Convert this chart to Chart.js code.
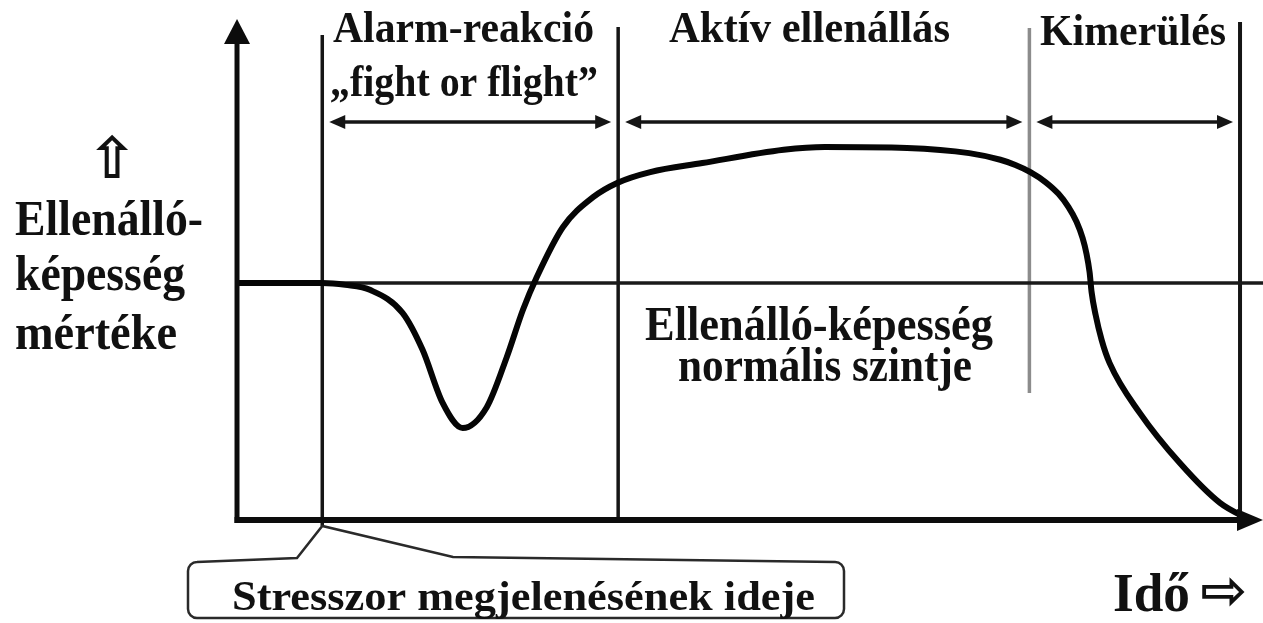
<!DOCTYPE html>
<html>
<head>
<meta charset="utf-8">
<script src="https://cdn.jsdelivr.net/npm/chart.js@4"></script>
<style>
  html, body { margin: 0; padding: 0; background: #ffffff; }
  #wrap { width: 1263px; height: 623px; position: relative; }
</style>
</head>
<body>
<div id="wrap"><canvas id="c"></canvas></div>
<script>
// ---- data (time in % of the whole process, resistance with normal level = 50) ----
const timeValues = [0, 8.5, 10.8, 13.3, 16.5, 18.5, 20.5, 22.5, 24.9, 26.9, 28.5, 29.9, 32.5, 35.5, 37.9,
  41.2, 46.4, 54.5, 58.6, 66.8, 73.0, 76.1, 77.6, 79.1, 80.6, 81.9, 82.9, 83.7, 84.3, 84.7, 85.0, 85.2, 85.6,
  86.2, 87.0, 90.0, 94.0, 98.0, 101.0];
const resistanceValues = [50, 50, 49.6, 48.5, 43.7, 35.9, 24.7, 19.4, 23.8, 34.4, 44.3, 51.3, 61.8, 68.1, 71.1,
  73.4, 75.3, 78.1, 78.7, 78.5, 77.4, 76.0, 74.9, 73.4, 71.3, 68.8, 66.0, 62.9, 59.5, 56.1, 52.3, 48.1, 43.3,
  38.0, 33.1, 22.6, 12.0, 3.6, 0];
const stageBounds = [8.5, 38, 79, 100];
const stageNames = ['Alarm-reakció', 'Aktív ellenállás', 'Kimerülés'];
const alarmSubtitle = '„fight or flight”';
const normalLevel = 50;
const yAxisLabel = ['Ellenálló-', 'képesség', 'mértéke'];
const normalLabel = ['Ellenálló-képesség', 'normális szintje'];
const stressorLabel = 'Stresszor megjelenésének ideje';
const timeLabel = 'Idő';

// scale ranges
const X_MIN = -23.63, X_MAX = 102.29;
const Y_MIN = -21.73, Y_MAX = 109.70;

const SERIF = "'Liberation Serif', 'Times New Roman', serif";
const INK = '#111111';

function fitText(ctx, text, left, right, baseline, size, weight, family) {
  ctx.save();
  ctx.font = weight + ' ' + size + 'px ' + family;
  ctx.textAlign = 'left';
  ctx.textBaseline = 'alphabetic';
  const w = ctx.measureText(text).width;
  const sx = (right - left) / w;
  ctx.translate(left, baseline);
  ctx.scale(sx, 1);
  ctx.fillStyle = INK;
  ctx.fillText(text, 0, 0);
  ctx.restore();
}
function fitSymbol(ctx, text, left, top, width, height) {
  ctx.save();
  ctx.font = "bold 60px 'DejaVu Sans', sans-serif";
  ctx.textAlign = 'left';
  ctx.textBaseline = 'alphabetic';
  const m = ctx.measureText(text);
  const gw = m.actualBoundingBoxLeft + m.actualBoundingBoxRight;
  const gh = m.actualBoundingBoxAscent + m.actualBoundingBoxDescent;
  ctx.translate(left, top);
  ctx.scale(width / gw, height / gh);
  ctx.fillStyle = INK;
  ctx.fillText(text, m.actualBoundingBoxLeft, m.actualBoundingBoxAscent);
  ctx.restore();
}
function arrowHead(ctx, tipX, tipY, dir, len, half) {
  ctx.beginPath();
  if (dir === 'left') { ctx.moveTo(tipX, tipY); ctx.lineTo(tipX + len, tipY - half); ctx.lineTo(tipX + len, tipY + half); }
  else if (dir === 'right') { ctx.moveTo(tipX, tipY); ctx.lineTo(tipX - len, tipY - half); ctx.lineTo(tipX - len, tipY + half); }
  else { ctx.moveTo(tipX, tipY); ctx.lineTo(tipX - half, tipY + len); ctx.lineTo(tipX + half, tipY + len); }
  ctx.closePath();
  ctx.fill();
}

const diagramPlugin = {
  id: 'diagram',
  beforeDatasetsDraw(chart) {
    const ctx = chart.ctx, xs = chart.scales.x, ys = chart.scales.y;
    const y0 = ys.getPixelForValue(0);
    ctx.save();
    ctx.lineCap = 'butt';
    // stage boundary lines
    const tops = [35, 27, 28, 22];
    stageBounds.forEach((b, i) => {
      const px = xs.getPixelForValue(b);
      ctx.beginPath();
      ctx.strokeStyle = i === 2 ? '#8c8c8c' : '#151515';
      ctx.lineWidth = i === 3 ? 4 : 3.5;
      const bottom = i === 0 ? y0 + 6 : (i === 2 ? 393 : y0);
      ctx.moveTo(px, tops[i]);
      ctx.lineTo(px, bottom);
      ctx.stroke();
    });
    // double arrows for each stage
    const ay = 122;
    ctx.strokeStyle = '#151515';
    ctx.fillStyle = '#151515';
    ctx.lineWidth = 3.5;
    for (let i = 0; i < stageBounds.length - 1; i++) {
      const a = xs.getPixelForValue(stageBounds[i]) + 7;
      const b = xs.getPixelForValue(stageBounds[i + 1]) - 7;
      ctx.beginPath();
      ctx.moveTo(a + 6, ay); ctx.lineTo(b - 6, ay); ctx.stroke();
      arrowHead(ctx, a, ay, 'left', 16, 7);
      arrowHead(ctx, b, ay, 'right', 16, 7);
    }
    ctx.restore();
  },
  afterDatasetsDraw(chart) {
    const ctx = chart.ctx, xs = chart.scales.x, ys = chart.scales.y;
    const x0 = xs.getPixelForValue(0), y0 = ys.getPixelForValue(0);
    ctx.save();
    ctx.strokeStyle = '#0c0c0c';
    ctx.fillStyle = '#0c0c0c';
    // y axis
    ctx.lineWidth = 5;
    ctx.beginPath(); ctx.moveTo(x0, y0 + 3); ctx.lineTo(x0, 40); ctx.stroke();
    arrowHead(ctx, x0, 19, 'up', 25, 13);
    // x axis
    ctx.lineWidth = 6;
    ctx.beginPath(); ctx.moveTo(x0 - 2.5, y0); ctx.lineTo(1242, y0); ctx.stroke();
    arrowHead(ctx, 1263, y0, 'right', 26, 11);

    // callout for stressor time
    const axp = xs.getPixelForValue(stageBounds[0]);
    const L = 188, R = 844, T = 562, B = 618, r = 9;
    ctx.lineWidth = 2.5;
    ctx.strokeStyle = '#2a2a2a';
    ctx.beginPath();
    ctx.moveTo(L + r, T);
    ctx.lineTo(297, 558);
    ctx.lineTo(axp, y0 + 6);
    ctx.lineTo(453, 557);
    ctx.arcTo(R, T, R, B, r);
    ctx.arcTo(R, B, L, B, r);
    ctx.arcTo(L, B, L, T, r);
    ctx.arcTo(L, T, R, T, r);
    ctx.closePath();
    ctx.stroke();

    // texts
    fitText(ctx, stageNames[0], 333, 594, 42, 44, 'bold', SERIF);
    fitText(ctx, alarmSubtitle, 330, 598, 96, 44, 'bold', SERIF);
    fitText(ctx, stageNames[1], 669, 950, 42, 44, 'bold', SERIF);
    fitText(ctx, stageNames[2], 1040, 1226, 45, 44, 'bold', SERIF);

    fitSymbol(ctx, '⇧', 96, 134, 33, 44);
    fitText(ctx, yAxisLabel[0], 15, 203, 235, 50, 'bold', SERIF);
    fitText(ctx, yAxisLabel[1], 15, 185, 290, 50, 'bold', SERIF);
    fitText(ctx, yAxisLabel[2], 15, 177, 349, 50, 'bold', SERIF);

    fitText(ctx, normalLabel[0], 645, 993, 340, 48, 'bold', SERIF);
    fitText(ctx, normalLabel[1], 678, 972, 381, 48, 'bold', SERIF);

    fitText(ctx, stressorLabel, 232, 815, 610, 42, 'bold', SERIF);
    fitText(ctx, timeLabel, 1113, 1190, 611, 54, 'bold', SERIF);
    fitSymbol(ctx, '⇨', 1202, 577, 43, 30);
    ctx.restore();
  }
};

new Chart(document.getElementById('c'), {
  type: 'line',
  data: {
    datasets: [
      {
        label: 'Ellenálló-képesség',
        data: timeValues.map((t, i) => ({ x: t, y: resistanceValues[i] })),
        borderColor: '#050505',
        borderWidth: 6,
        pointRadius: 0,
        fill: false,
        cubicInterpolationMode: 'monotone',
        order: 1
      },
      {
        label: 'Normális szint',
        data: [{ x: 0, y: normalLevel }, { x: X_MAX, y: normalLevel }],
        borderColor: '#1a1a1a',
        borderWidth: 3.5,
        pointRadius: 0,
        fill: false,
        order: 2
      }
    ]
  },
  options: {
    responsive: true,
    maintainAspectRatio: false,
    animation: false,
    events: [],
    layout: { padding: 0 },
    plugins: { legend: { display: false }, tooltip: { enabled: false } },
    scales: {
      x: { type: 'linear', min: X_MIN, max: X_MAX, display: false },
      y: { type: 'linear', min: Y_MIN, max: Y_MAX, display: false }
    }
  },
  plugins: [diagramPlugin]
});
</script>
</body>
</html>
